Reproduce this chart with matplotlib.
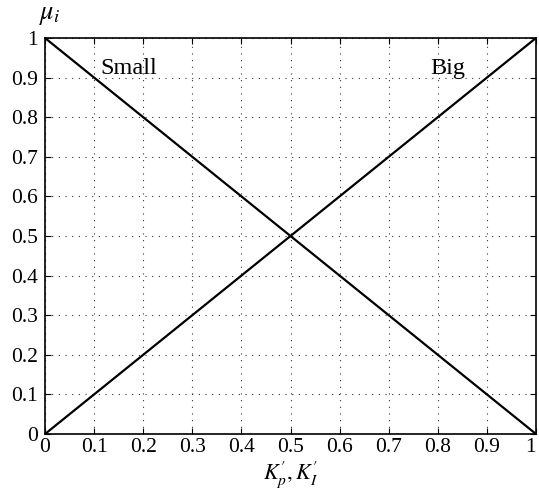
import matplotlib
matplotlib.use("Agg")
import matplotlib.pyplot as plt
import numpy as np

plt.rcParams['font.family'] = ['Liberation Serif', 'DejaVu Serif']
plt.rcParams['mathtext.fontset'] = 'stix'

x = [0, 1]
small = [1, 0]
big = [0, 1]
ticks = np.round(np.arange(0, 1.01, 0.1), 1)
tick_labels = ['0', '0.1', '0.2', '0.3', '0.4', '0.5', '0.6', '0.7', '0.8', '0.9', '1']

fig = plt.figure(figsize=(5.39, 4.90), dpi=100)
# axes box: left 45px, right 536px, top 38px, bottom 434px
ax = fig.add_axes([45 / 539, 56 / 490, 491 / 539, 396 / 490])

ax.plot(x, small, color='black', lw=1.6)
ax.plot(x, big, color='black', lw=1.6)

ax.set_xlim(0, 1)
ax.set_ylim(0, 1)
ax.set_xticks(ticks)
ax.set_yticks(ticks)
ax.set_xticklabels(tick_labels, fontsize=15.5)
ax.set_yticklabels(tick_labels, fontsize=15.5)
ax.get_xticklabels()[-1].set_horizontalalignment('right')
ax.tick_params(direction='in', top=True, right=True, length=4, pad=5)
ax.tick_params(axis='x', pad=3)
ax.grid(True, color='#333333', linestyle=(0, (1, 5)), lw=0.8)
for s in ax.spines.values():
    s.set_linewidth(1.2)

ax.text(0.112, 0.91, 'Small', fontsize=17.5)
ax.text(0.785, 0.91, 'Big', fontsize=17.5)

fig.text(0.54, 0.031, r"$K_p^{\prime},K_I^{\prime}$", fontsize=16, ha='center', va='center')
fig.text(0.072, 0.968, r"$\mu_i$", fontsize=19, ha='left', va='center')

fig.savefig('out.png', dpi=100)
